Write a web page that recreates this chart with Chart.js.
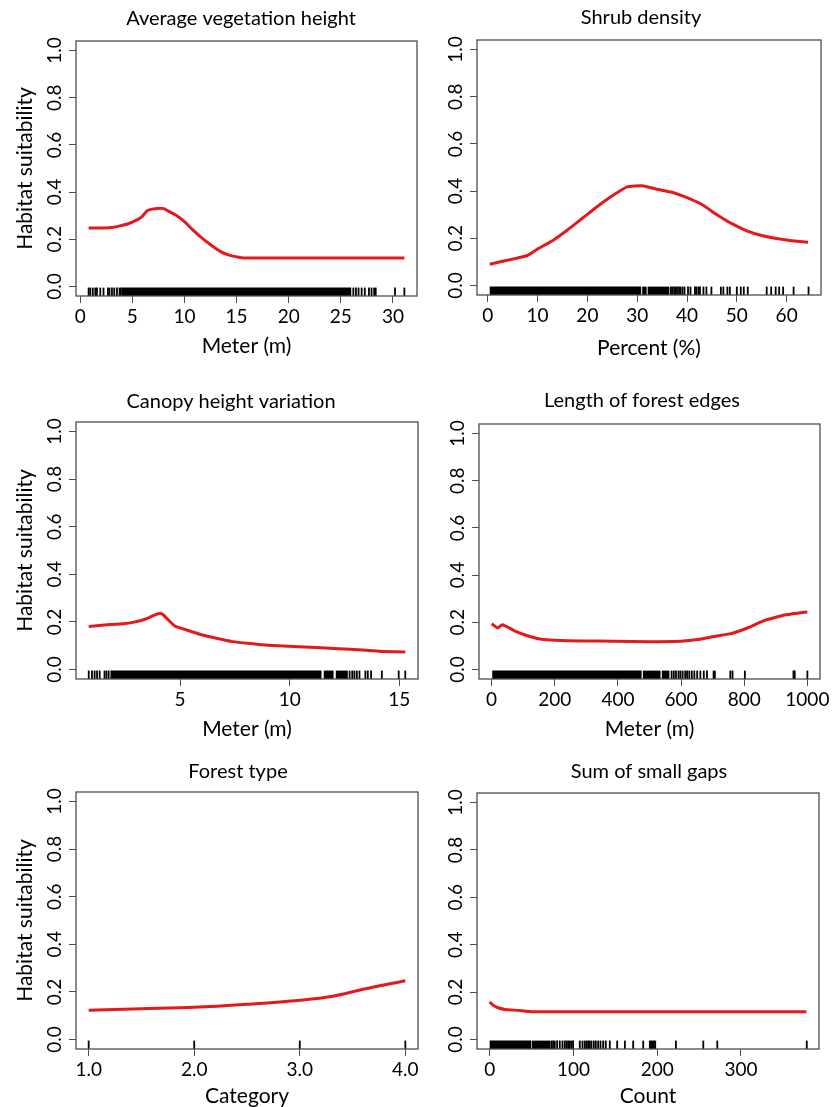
<!DOCTYPE html>
<html>
<head>
<meta charset="utf-8">
<script src="https://cdn.jsdelivr.net/npm/chart.js@4.4.1/dist/chart.umd.min.js"></script>
<style>
  body { margin: 0; background: #ffffff; }
  #page { position: relative; width: 834px; height: 1107px; overflow: hidden; background: #ffffff; }
  canvas { position: absolute; }
</style>
</head>
<body>
<div id="page">
  <canvas id="c1"></canvas>
  <canvas id="c2"></canvas>
  <canvas id="c3"></canvas>
  <canvas id="c4"></canvas>
  <canvas id="c5"></canvas>
  <canvas id="c6"></canvas>
</div>
<script>
/* Shared axis values */
const yTicks = [0, 0.2, 0.4, 0.6, 0.8, 1.0];

/* Average vegetation height */
const vegX = [0.8, 2.0, 3.0, 3.8, 4.6, 5.4, 5.9, 6.2, 6.45, 6.9, 7.4, 8.0, 8.6, 9.3, 10.0, 10.8, 11.6, 12.5, 13.5, 14.3, 15.2, 15.7, 20, 25, 31.1];
const vegY = [0.248, 0.248, 0.250, 0.257, 0.266, 0.281, 0.295, 0.310, 0.322, 0.328, 0.331, 0.330, 0.316, 0.299, 0.275, 0.240, 0.208, 0.177, 0.147, 0.133, 0.124, 0.121, 0.121, 0.121, 0.121];
const vegTicks = [0, 5, 10, 15, 20, 25, 30];
const vegRug = [0.8, 0.96, 1.2, 1.44, 1.6, 1.92, 2.23, 2.65, 2.8, 3.04, 3.26, 3.52, 3.77, 3.9, 26.2, 26.45, 26.7, 27.0, 27.3, 27.7, 27.95, 28.2, 28.35, 30.2, 31.1];
const vegRugBlocks = [[4.0, 26.0]];

/* Shrub density */
const shrubX = [0.4, 3, 6, 8, 10, 13, 16, 19, 22, 25, 28, 31, 34, 37, 40, 43, 46, 49, 52, 55, 58, 61, 64.3];
const shrubY = [0.090, 0.103, 0.117, 0.128, 0.155, 0.190, 0.235, 0.285, 0.335, 0.380, 0.418, 0.423, 0.408, 0.395, 0.372, 0.343, 0.300, 0.262, 0.232, 0.212, 0.199, 0.190, 0.183];
const shrubTicks = [0, 10, 20, 30, 40, 50, 60];
const shrubRug = [36.7, 37.0, 37.4, 37.7, 38.0, 38.4, 38.7, 39.1, 39.5, 40.2, 40.7, 41.6, 41.9, 42.3, 42.6, 43.3, 43.9, 44.9, 46.8, 47.3, 48.1, 48.6, 50.0, 50.8, 51.4, 52.2, 56.0, 56.9, 57.8, 58.5, 59.3, 61.4, 64.4];
const shrubRugBlocks = [[0.4, 30.8], [31.0, 31.9], [32.1, 36.4]];

/* Canopy height variation */
const canopyX = [0.83, 1.8, 2.4, 2.9, 3.4, 3.8, 4.05, 4.2, 4.75, 5.3, 5.9, 6.7, 7.4, 8.2, 9.0, 10.4, 12.0, 13.5, 14.2, 15.27];
const canopyY = [0.181, 0.189, 0.192, 0.199, 0.211, 0.227, 0.235, 0.232, 0.183, 0.166, 0.148, 0.130, 0.117, 0.109, 0.102, 0.096, 0.088, 0.081, 0.076, 0.073];
const canopyTicks = [5, 10, 15];
const canopyRug = [0.83, 0.98, 1.1, 1.21, 1.33, 1.55, 1.64, 1.74, 12.73, 12.85, 12.95, 13.06, 13.18, 13.45, 13.56, 13.71, 14.2, 14.97, 15.27];
const canopyRugBlocks = [[1.82, 11.45], [11.55, 12.0], [12.1, 12.65]];

/* Length of forest edges */
const edgeX = [0, 19, 34, 74, 116, 158, 200, 284, 389, 495, 600, 653, 705, 758, 810, 863, 916, 958, 1000];
const edgeY = [0.194, 0.176, 0.190, 0.163, 0.142, 0.128, 0.124, 0.121, 0.120, 0.118, 0.120, 0.127, 0.140, 0.152, 0.176, 0.207, 0.227, 0.237, 0.244];
const edgeTicks = [0, 200, 400, 600, 800, 1000];
const edgeRug = [570, 577, 584, 592, 598, 605, 613, 619, 626, 634, 642, 651, 661, 672, 682, 703, 707, 756, 763, 802, 956, 958, 960, 1000];
const edgeRugBlocks = [[2, 475], [479, 535], [539, 563]];

/* Forest type */
const typeX = [1.0, 1.5, 2.0, 2.5, 3.0, 3.3, 3.6, 4.0];
const typeY = [0.123, 0.129, 0.135, 0.148, 0.165, 0.181, 0.211, 0.247];
const typeTicks = [1, 2, 3, 4];
const typeRug = [1, 2, 3, 4];
const typeRugBlocks = [];

/* Sum of small gaps */
const gapsX = [0, 4, 10, 18, 30, 54, 378];
const gapsY = [0.159, 0.145, 0.134, 0.127, 0.124, 0.117, 0.117];
const gapsTicks = [0, 100, 200, 300];
const gapsRug = [73.7, 75.7, 77.7, 80.5, 83.7, 86.9, 89.6, 91.6, 93.6, 95.6, 97.6, 99.6, 107.6, 110.8, 113.5, 115.5, 117.5, 119.5, 121.5, 124.3, 126.7, 129.5, 132.3, 135.5, 138.6, 143.4, 152.2, 161.4, 171.3, 183.3, 191.2, 192.8, 194.4, 196.0, 197.6, 222.3, 255.0, 271.7, 378.5];
const gapsRugBlocks = [[0, 49.8], [50.6, 72.5]];

/* Styles */
const fuente = "Lato, 'Open Sans', sans-serif";
const rojo = '#e3191c';
const gris = '#4d4d4d';
const tinta = '#000';
const tamTitulo = 20;  // main titles
const tamEje = 21;     // axis titles
const tamTick = 19;    // tick labels
const rugY = -0.0225;  // centre of the rug strip
const rugLen = 8.5;    // rug tick length in px

// Draws the R style frame: box, rotated y labels and main title
const marcoR = {
    id: 'marcoR',
    afterDraw(chart, args, opts) {
        let ctx = chart.ctx;
        let area = chart.chartArea;
        let ys = chart.scales.y;
        ctx.save();
        ctx.strokeStyle = gris;
        ctx.lineWidth = 1.3;
        ctx.strokeRect(area.left, area.top, area.right - area.left, area.bottom - area.top);

        ctx.fillStyle = tinta;
        ctx.font = tamTick + 'px ' + fuente;
        ctx.textAlign = 'center';
        ctx.textBaseline = 'middle';
        yTicks.forEach(v => {
            ctx.save();
            ctx.translate(area.left - 21, ys.getPixelForValue(v));
            ctx.rotate(-Math.PI / 2);
            ctx.fillText(v.toFixed(1), 0, 0);
            ctx.restore();
        });

        ctx.font = tamTitulo + 'px ' + fuente;
        ctx.fillText(opts.text, opts.x, opts.y);
        ctx.restore();
    }
};

function crearPanel(p) {
    let canvas = document.getElementById(p.id);
    canvas.width = p.w;
    canvas.height = p.h;
    canvas.style.left = p.left + 'px';
    canvas.style.top = p.top + 'px';

    let padTop = p.box.t - p.top;
    let padRight = p.left + p.w - p.box.r;
    let anchoY = p.box.l - p.left;
    let altoX = p.top + p.h - p.box.b;
    let medioEje = tamEje * 1.2 / 2;

    let datasets = [];
    // dense parts of the rug
    p.rugBlocks.forEach(b => {
        datasets.push({
            type: 'line',
            data: [{x: b[0], y: rugY}, {x: b[1], y: rugY}],
            borderColor: '#000',
            borderWidth: rugLen,
            borderCapStyle: 'butt',
            pointRadius: 0
        });
    });
    // single rug ticks
    datasets.push({
        type: 'scatter',
        data: p.rug.map(v => ({x: v, y: rugY})),
        pointStyle: 'line',
        pointRotation: 90,
        pointRadius: rugLen / 2,
        pointBorderColor: '#000',
        pointBorderWidth: 1.8
    });
    // response curve
    let curva = {
        type: 'line',
        data: p.cx.map((x, i) => ({x: x, y: p.cy[i]})),
        borderColor: rojo,
        borderWidth: 3,
        pointRadius: 0,
        tension: 0.15,
        borderJoinStyle: 'round'
    };
    if (p.suave) curva.cubicInterpolationMode = 'monotone';
    datasets.push(curva);

    new Chart(canvas, {
        data: { datasets: datasets },
        options: {
            responsive: false,
            animation: false,
            events: [],
            layout: { padding: { top: padTop, right: padRight, left: 0, bottom: 0 } },
            plugins: {
                legend: { display: false },
                tooltip: { enabled: false },
                marcoR: { text: p.title, x: p.titleX - p.left, y: p.titleY - p.top }
            },
            scales: {
                x: {
                    type: 'linear',
                    min: p.xMin,
                    max: p.xMax,
                    afterBuildTicks: s => { s.ticks = p.xTicks.map(v => ({value: v})); },
                    afterFit: s => { s.height = altoX; },
                    grid: { drawOnChartArea: false, drawTicks: true, tickLength: 7, color: gris },
                    border: { display: false },
                    ticks: {
                        color: tinta,
                        font: { family: fuente, size: tamTick },
                        padding: 2,
                        maxRotation: 0,
                        autoSkip: false,
                        callback: v => p.fmt(v)
                    },
                    title: {
                        display: true,
                        text: p.xTitle,
                        color: tinta,
                        font: { family: fuente, size: tamEje },
                        padding: { top: 0, bottom: p.top + p.h - p.xTitleY - medioEje }
                    }
                },
                y: {
                    type: 'linear',
                    min: -0.04,
                    max: 1.04,
                    afterBuildTicks: s => { s.ticks = yTicks.map(v => ({value: v})); },
                    afterFit: s => { s.width = anchoY; },
                    grid: { drawOnChartArea: false, drawTicks: true, tickLength: 7, color: gris },
                    border: { display: false },
                    ticks: { color: 'rgba(0,0,0,0)', font: { family: fuente, size: tamTick } },
                    title: {
                        display: p.yTitle,
                        text: 'Habitat suitability',
                        color: tinta,
                        font: { family: fuente, size: tamEje },
                        padding: { top: 25 - medioEje, bottom: 0 }
                    }
                }
            }
        },
        plugins: [marcoR]
    });
}

const entero = v => String(v);
const decimal = v => v.toFixed(1);

crearPanel({ id: 'c1', left: 0, top: 0, w: 430, h: 370, box: {l: 76, t: 41, r: 417, b: 296},
    title: 'Average vegetation height', titleX: 241, titleY: 19, xTitle: 'Meter (m)', xTitleY: 346.7, yTitle: true,
    xMin: -0.41, xMax: 32.31, xTicks: vegTicks, fmt: entero,
    cx: vegX, cy: vegY, rug: vegRug, rugBlocks: vegRugBlocks });

crearPanel({ id: 'c2', left: 420, top: 0, w: 414, h: 370, box: {l: 477, t: 40, r: 821, b: 295},
    title: 'Shrub density', titleX: 641, titleY: 18, xTitle: 'Percent (%)', xTitleY: 348.3, yTitle: false,
    xMin: -2.16, xMax: 66.9, xTicks: shrubTicks, fmt: entero,
    cx: shrubX, cy: shrubY, rug: shrubRug, rugBlocks: shrubRugBlocks });

crearPanel({ id: 'c3', left: 0, top: 370, w: 430, h: 380, box: {l: 76, t: 422, r: 418, b: 679},
    title: 'Canopy height variation', titleX: 231, titleY: 401.5, xTitle: 'Meter (m)', xTitleY: 729.3, yTitle: true,
    xMin: 0.25, xMax: 15.85, xTicks: canopyTicks, fmt: entero,
    cx: canopyX, cy: canopyY, rug: canopyRug, rugBlocks: canopyRugBlocks });

crearPanel({ id: 'c4', left: 420, top: 370, w: 414, h: 380, box: {l: 479, t: 424, r: 820, b: 679},
    title: 'Length of forest edges', titleX: 642, titleY: 401, xTitle: 'Meter (m)', xTitleY: 729.3, yTitle: false,
    xMin: -40, xMax: 1040, xTicks: edgeTicks, fmt: entero,
    cx: edgeX, cy: edgeY, rug: edgeRug, rugBlocks: edgeRugBlocks });

crearPanel({ id: 'c5', left: 0, top: 740, w: 430, h: 367, box: {l: 76, t: 792, r: 418, b: 1049},
    title: 'Forest type', titleX: 238, titleY: 772, xTitle: 'Category', xTitleY: 1096, yTitle: true,
    xMin: 0.88, xMax: 4.12, xTicks: typeTicks, fmt: decimal, suave: true,
    cx: typeX, cy: typeY, rug: typeRug, rugBlocks: typeRugBlocks });

crearPanel({ id: 'c6', left: 420, top: 740, w: 414, h: 367, box: {l: 477, t: 793, r: 819, b: 1049},
    title: 'Sum of small gaps', titleX: 649, titleY: 772, xTitle: 'Count', xTitleY: 1096.7, yTitle: false,
    xMin: -15.1, xMax: 393.1, xTicks: gapsTicks, fmt: entero, suave: true,
    cx: gapsX, cy: gapsY, rug: gapsRug, rugBlocks: gapsRugBlocks });
</script>
</body>
</html>
